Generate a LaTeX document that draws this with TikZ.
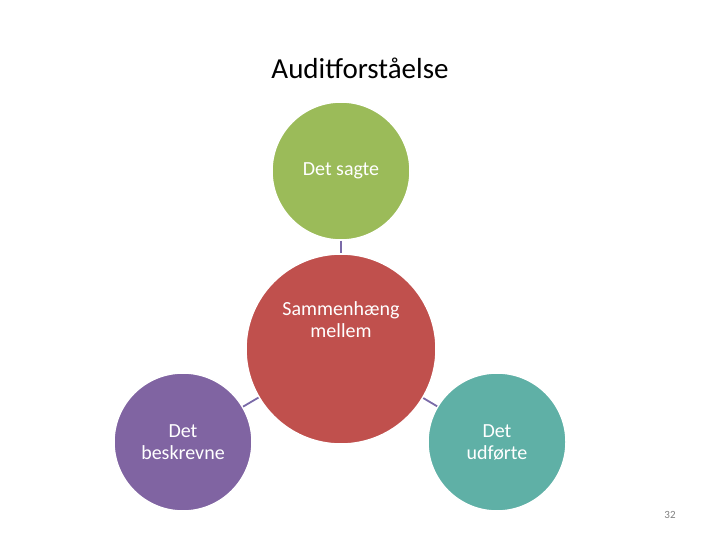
\documentclass[tikz,border=0pt]{standalone}
\usepackage{fontspec}
\setmainfont{Carlito}
\definecolor{cgreen}{HTML}{9BBB59}
\definecolor{cred}{HTML}{C0504D}
\definecolor{cpurple}{HTML}{8064A2}
\definecolor{cteal}{HTML}{5FB0A6}
\definecolor{clink}{HTML}{7A6AA8}
\begin{document}
\begin{tikzpicture}[x=1pt,y=-1pt,
  circ/.style={circle,draw=white,line width=1.5pt,inner sep=0pt,text=white,align=center,font=\fontsize{20}{22}\selectfont},
  link/.style={draw=clink,line width=1.8pt}]
\useasboundingbox (0,0) rectangle (720,540);
\node (title) at (360,68) {\fontsize{29}{32}\selectfont Auditforståelse};
\node[circ,fill=cgreen,minimum size=138pt] (g) at (341,171) {Det sagte};
\node[circ,fill=cred,minimum size=190pt] (r) at (341,349) {Sammenhæng\\mellem\\[36pt]};
\node[circ,fill=cpurple,minimum size=138pt] (p) at (183,442) {Det\\beskrevne};
\node[circ,fill=cteal,minimum size=138pt] (t) at (497,442) {Det\\udførte};
\draw[link] (g) -- (r);
\draw[link] (r) -- (p);
\draw[link] (r) -- (t);
\node[text=gray,font=\fontsize{11}{12}\selectfont] (n) at (670,515) {32};
\end{tikzpicture}
\end{document}
